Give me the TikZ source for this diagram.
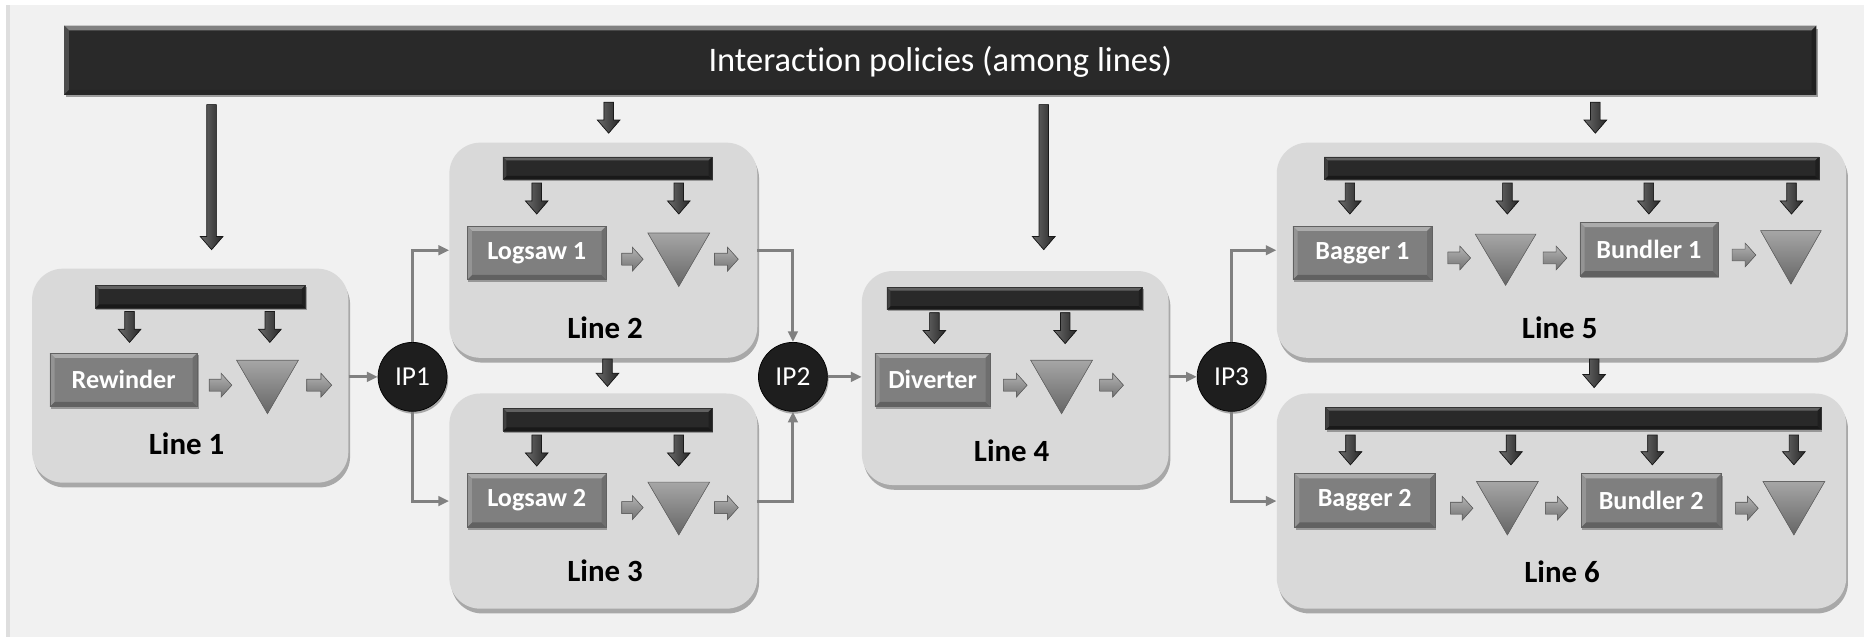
\documentclass[tikz,border=0pt]{standalone}
\usepackage{fontspec}
\setmainfont{Carlito}[Ligatures={NoCommon}]
\usetikzlibrary{arrows.meta,shadows,calc}
\definecolor{panelc}{HTML}{F1F1F1}
\definecolor{lineboxc}{HTML}{D9D9D9}
\definecolor{barc}{HTML}{292929}
\definecolor{procc}{HTML}{7F7F7F}
\definecolor{connc}{HTML}{808080}
\definecolor{ipc}{HTML}{1E1E1E}

\newcommand\bevelpic[5]{%
  \coordinate (pnw) at (path picture bounding box.north west);
  \coordinate (pse) at (path picture bounding box.south east);
  \coordinate (pne) at (path picture bounding box.north east);
  \coordinate (psw) at (path picture bounding box.south west);
  \fill[#1] (pnw) -- (pne) -- ([xshift=-#5,yshift=-#5]pne) -- ([xshift=#5,yshift=-#5]pnw) -- cycle;
  \fill[#2] (psw) -- (pse) -- ([xshift=-#5,yshift=#5]pse) -- ([xshift=#5,yshift=#5]psw) -- cycle;
  \fill[#3] (pnw) -- (psw) -- ([xshift=#5,yshift=#5]psw) -- ([xshift=#5,yshift=-#5]pnw) -- cycle;
  \fill[#4] (pne) -- (pse) -- ([xshift=-#5,yshift=#5]pse) -- ([xshift=-#5,yshift=-#5]pne) -- cycle;
}
\newcommand\blkdown[3]{%
  \filldraw[darkarrow] ({#1-4},#2) -- ({#1+4},#2) -- ({#1+4},{#3-11}) -- ({#1+9.5},{#3-11}) -- (#1,#3) -- ({#1-9.5},{#3-11}) -- ({#1-4},{#3-11}) -- cycle;}
\newcommand\blkright[3]{%
  \filldraw[lightarrow] (#1,{#3-5}) -- ({#2-9},{#3-5}) -- ({#2-9},{#3-10}) -- (#2,#3) -- ({#2-9},{#3+10}) -- ({#2-9},{#3+5}) -- (#1,{#3+5}) -- cycle;}
\newcommand\invtri[4]{%
  \filldraw[tri] (#1,#3) -- (#2,#3) -- ({(#1+#2)/2},#4) -- cycle;}

\tikzset{
  linebox/.style={rectangle, fill=lineboxc, rounded corners=26pt, inner sep=0pt,
    drop shadow={shadow xshift=1.5pt, shadow yshift=-4pt, opacity=0.3, fill=black}},
  topbar/.style={rectangle, fill=barc, inner sep=0pt, text=white,
    font=\fontsize{29}{34}\selectfont,
    path picture={\bevelpic{black!55!white!90}{black!85}{black!70}{black!88}{4pt}},
    drop shadow={shadow xshift=1.5pt, shadow yshift=-2.5pt, opacity=0.35, fill=black}},
  barbox/.style={rectangle, fill=barc, inner sep=0pt, draw=black!80, line width=0.5pt,
    path picture={\bevelpic{black!62}{black!90}{black!75}{black!88}{3pt}},
    drop shadow={shadow xshift=1pt, shadow yshift=-1.5pt, opacity=0.3, fill=black}},
  proc/.style={rectangle, fill=procc, inner sep=0pt, draw=black!62, line width=0.5pt,
    text=white, font=\bfseries\fontsize{22}{26}\selectfont,
    path picture={\bevelpic{black!33}{black!62}{black!42}{black!57}{4pt}},
    drop shadow={shadow xshift=1pt, shadow yshift=-2pt, opacity=0.3, fill=black}},
  lbl/.style={font=\bfseries\fontsize{26}{31}\selectfont, text=black},
  ip/.style={circle, fill=ipc, draw=black, line width=0.6pt, minimum size=58pt, inner sep=0pt,
    text=white, font=\fontsize{23}{27}\selectfont,
    drop shadow={shadow xshift=1pt, shadow yshift=-2pt, opacity=0.3, fill=black}},
  conn/.style={draw=connc, line width=2.5pt, -{Triangle[length=9pt,width=8pt]}},
  darkarrow/.style={left color=black!58, right color=black!85, draw=black!90, line width=0.6pt},
  lightarrow/.style={top color=black!30, bottom color=black!55, draw=black!62, line width=0.5pt},
  tri/.style={top color=black!35, bottom color=black!60, draw=black!60, line width=0.5pt},
}

\begin{document}
\begin{tikzpicture}[x=1pt,y=-1pt]
\useasboundingbox (0,0) rectangle (1568,536);
\fill[white] (0,0) rectangle (1568,536);
\fill[black!13] (5,4) rectangle (9,536);
\fill[panelc] (8,4) rectangle (1568,536);

% top bar
\node[topbar, minimum width=1474pt, minimum height=58pt] (top) at (791,50.5) {\raisebox{-10pt}[0pt][0pt]{Interaction policies (among lines)}};

% line boxes
\node[linebox, minimum width=266pt, minimum height=180pt] (L1) at (160,316) {};
\node[linebox, minimum width=259pt, minimum height=181pt] (L2) at (507.5,210.5) {};
\node[linebox, minimum width=259pt, minimum height=181pt] (L3) at (507.5,421.5) {};
\node[linebox, minimum width=258pt, minimum height=180pt] (L4) at (854,318) {};
\node[linebox, minimum width=479pt, minimum height=181pt] (L5) at (1313.5,210.5) {};
\node[linebox, minimum width=479pt, minimum height=181pt] (L6) at (1313.5,421.5) {};

% labels
\node[lbl] (t1) at (157,373) {Line 1};
\node[lbl] (t2) at (509,276) {Line 2};
\node[lbl] (t3) at (509,480) {Line 3};
\node[lbl] (t4) at (851,379) {Line 4};
\node[lbl] (t5) at (1312,276) {Line 5};
\node[lbl] (t6) at (1314,481) {Line 6};

% bars inside lines
\node[barbox, minimum width=177pt, minimum height=19pt] (b1) at (168.5,249.5) {};
\node[barbox, minimum width=176pt, minimum height=19pt] (b2) at (511,141.5) {};
\node[barbox, minimum width=176pt, minimum height=19pt] (b3) at (511,353) {};
\node[barbox, minimum width=215pt, minimum height=19pt] (b4) at (853.5,251) {};
\node[barbox, minimum width=416pt, minimum height=19pt] (b5) at (1322,141.5) {};
\node[barbox, minimum width=417pt, minimum height=19pt] (b6) at (1323.5,352) {};

% process boxes
\node[proc, minimum width=124pt, minimum height=45pt] (rw) at (104,319.5) {Rewinder};
\node[proc, minimum width=117pt, minimum height=45pt] (ls1) at (451.5,212.75) {Logsaw 1};
\node[proc, minimum width=117pt, minimum height=45pt] (ls2) at (451.5,421) {Logsaw 2};
\node[proc, minimum width=97pt, minimum height=45pt] (dv) at (784.5,319.5) {Diverter};
\node[proc, minimum width=117pt, minimum height=45pt] (bg1) at (1146,212.75) {Bagger 1};
\node[proc, minimum width=116pt, minimum height=45pt] (bd1) at (1387,209.5) {Bundler 1};
\node[proc, minimum width=118pt, minimum height=45pt] (bg2) at (1148,421) {Bagger 2};
\node[proc, minimum width=118pt, minimum height=45pt] (bd2) at (1389,421) {Bundler 2};

% triangles
\invtri{199}{251}{303}{348}
\invtri{545}{597}{196}{241}
\invtri{545}{597}{405.5}{450}
\invtri{867}{919}{303}{348}
\invtri{1241}{1292}{197}{240}
\invtri{1481}{1532}{194}{239}
\invtri{1242}{1294}{405}{450}
\invtri{1483}{1535}{405}{450}

% small right arrows
\blkright{176}{195}{324}
\blkright{258}{279}{324}
\blkright{523}{541}{218}
\blkright{601}{621}{218}
\blkright{523}{541}{427}
\blkright{601}{621}{427}
\blkright{844}{864}{324}
\blkright{925}{945}{324}
\blkright{1218}{1237}{217}
\blkright{1298}{1318}{217}
\blkright{1457}{1477}{214.5}
\blkright{1220}{1239}{427.5}
\blkright{1300}{1319}{427.5}
\blkright{1460}{1479}{427.5}

% dark down arrows from the top bar
\blkdown{178}{88}{210}
\blkdown{512}{86}{112}
\blkdown{878}{88}{210}
\blkdown{1342}{86}{112}
% between lines
\blkdown{511}{302}{325}
\blkdown{1341}{302}{326}
% inside lines
\blkdown{109}{262}{288}
\blkdown{227}{262}{288}
\blkdown{451.5}{154}{180}
\blkdown{571}{154}{180}
\blkdown{451.5}{366}{392}
\blkdown{571}{366}{392}
\blkdown{786}{263}{289}
\blkdown{896}{263}{289}
\blkdown{1135.5}{154}{180}
\blkdown{1268}{154}{180}
\blkdown{1387}{154}{180}
\blkdown{1507}{154}{180}
\blkdown{1136}{366}{391}
\blkdown{1271}{366}{391}
\blkdown{1390}{366}{391}
\blkdown{1509}{366}{391}

% IP nodes
\node[ip] (ip1) at (347,317) {IP1};
\node[ip] (ip2) at (667,317) {IP2};
\node[ip] (ip3) at (1036,317) {IP3};

% connectors
\draw[conn] (L1.east |- ip1) -- (ip1.west);
\draw[conn] (ip1.north) |- (L2.west);
\draw[conn] (ip1.south) |- (L3.west);
\draw[conn] (L2.east) -| (ip2.north);
\draw[conn] (L3.east) -| (ip2.south);
\draw[conn] (ip2.east) -- (ip2.east -| L4.west);
\draw[conn] (L4.east |- ip3) -- (ip3.west);
\draw[conn] (ip3.north) |- (L5.west);
\draw[conn] (ip3.south) |- (L6.west);
\end{tikzpicture}
\end{document}
